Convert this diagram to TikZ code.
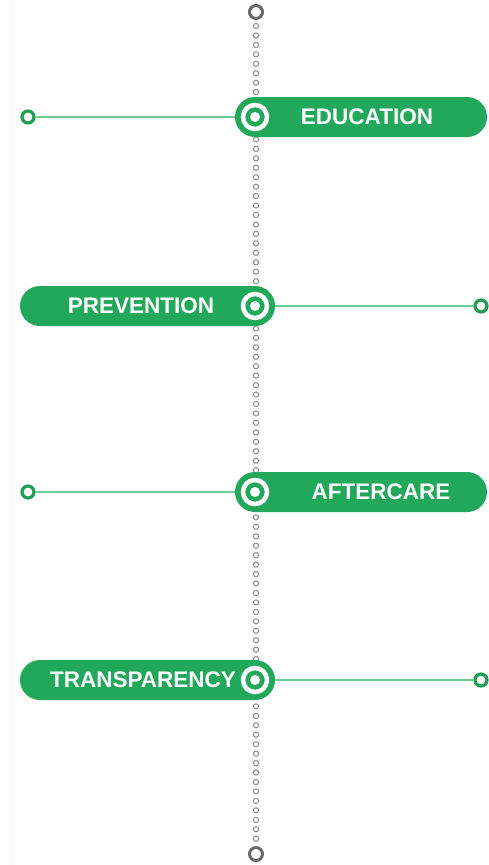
\documentclass[tikz,border=0pt]{standalone}
\usepackage{fontspec}
\setmainfont{Liberation Sans}
\begin{document}
\begin{tikzpicture}[x=1pt,y=-1pt,
  pill/.style={fill=pillgreen,rounded corners=20pt,minimum height=40pt,inner sep=0pt,draw=none},
  pilltext/.style={text=white,font=\bfseries\fontsize{22.5}{24}\selectfont,inner sep=0pt},
  endring/.style={circle,draw=ringgreen,line width=3.2pt,minimum size=12pt,inner sep=0pt,fill=white},
  link/.style={draw=linkgreen,line width=1.2pt},
  spinedot/.style={draw=dotgray,line width=1pt},
  bigring/.style={circle,draw=ringgray,line width=3pt,minimum size=13pt,inner sep=0pt,fill=white},
  targetout/.style={circle,draw=white,line width=4.5pt,minimum size=24pt,inner sep=0pt},
  targetin/.style={circle,fill=white,minimum size=10pt,inner sep=0pt}]
\definecolor{pillgreen}{HTML}{22A85A}
\definecolor{ringgreen}{HTML}{1E9E52}
\definecolor{linkgreen}{HTML}{6CCB93}
\definecolor{dotgray}{HTML}{8C8C8C}
\definecolor{ringgray}{HTML}{6A6A6A}
\useasboundingbox (0,0) rectangle (488,865);
\fill[white] (0,0) rectangle (488,865);
\draw[gray!10,line width=0.8pt] (12,0) -- (12,865);
% spine
\foreach \i in {0,...,86} {
  \draw[spinedot] (256,{26+\i*9.45}) circle (2.6pt);
}
\node[bigring] (top) at (256,12) {};
\node[bigring] (bottom) at (256,854) {};
% pills
\node[pill,minimum width=252pt] (p1) at (361,117) {};
\node[pill,minimum width=255pt] (p2) at (147.5,306) {};
\node[pill,minimum width=252pt] (p3) at (361,492) {};
\node[pill,minimum width=255pt] (p4) at (147.5,680) {};
% texts
\node[pilltext] (t1) at (367,117) {EDUCATION};
\node[pilltext] (t2) at (141,306) {PREVENTION};
\node[pilltext] (t3) at (381,492) {AFTERCARE};
\node[pilltext] (t4) at (143,680) {TRANSPARENCY};
% targets
\foreach \n/\y in {1/117,2/306,3/492,4/680} {
  \node[targetout] (g\n) at (255,\y) {};
  \node[targetin] (gi\n) at (255,\y) {};
}
% end circles
\node[endring] (e1) at (28,117) {};
\node[endring] (e2) at (481,306) {};
\node[endring] (e3) at (28,492) {};
\node[endring] (e4) at (481,680) {};
% links
\draw[link] (e1) -- (p1.west);
\draw[link] (p2.east) -- (e2);
\draw[link] (e3) -- (p3.west);
\draw[link] (p4.east) -- (e4);
\end{tikzpicture}
\end{document}
